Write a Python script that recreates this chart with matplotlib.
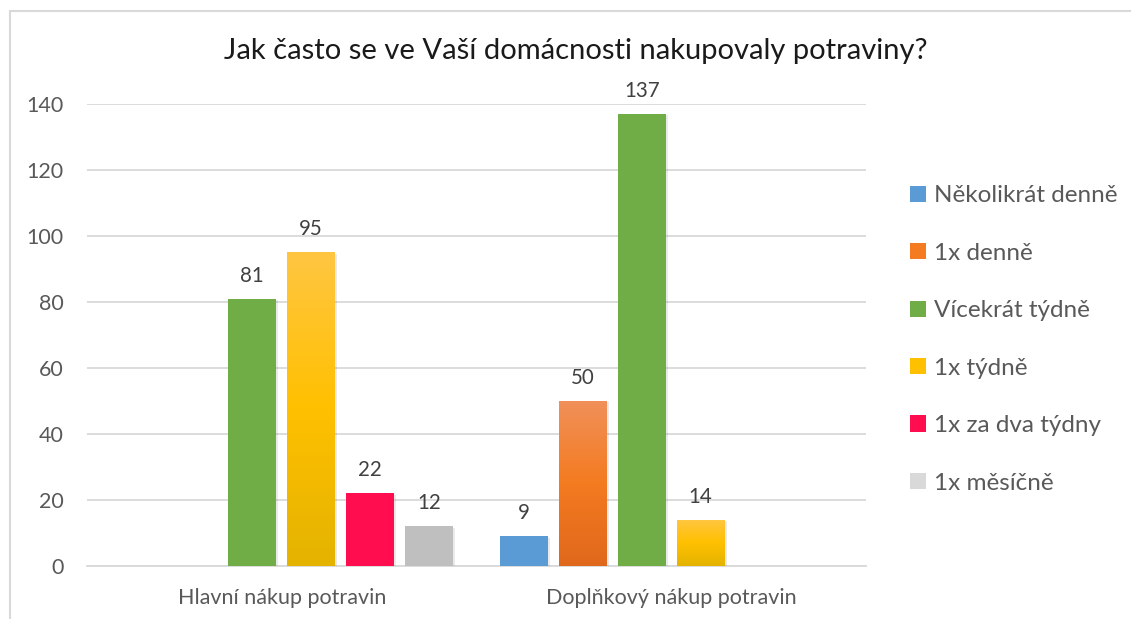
import numpy as np
import matplotlib
matplotlib.use("Agg")
import matplotlib.pyplot as plt
from matplotlib.patches import Patch, Rectangle
from matplotlib.colors import LinearSegmentedColormap
import matplotlib.patheffects as pe

plt.rcParams["font.family"] = ["Lato", "DejaVu Sans"]

# data
categories = ["Hlavní nákup potravin", "Doplňkový nákup potravin"]
series = ["Několikrát denně", "1x denně", "Vícekrát týdně",
          "1x týdně", "1x za dva týdny", "1x měsíčně"]
values = [
    [np.nan, 9],     # Několikrát denně
    [np.nan, 50],    # 1x denně
    [81, 137],       # Vícekrát týdně
    [95, 14],        # 1x týdně
    [22, np.nan],    # 1x za dva týdny
    [12, np.nan],    # 1x měsíčně
]
title = "Jak často se ve Vaší domácnosti nakupovaly potraviny?"

# style: flat colour or (top, middle, bottom) gradient
colors = ["#5B9BD5", ("#F0905A", "#F47B20", "#E0681C"), "#70AD47",
          ("#FFC642", "#FFC000", "#E4B300"), "#FF0D4E", "#BFBFBF"]
legend_colors = ["#5B9BD5", "#F47B20", "#70AD47", "#FFC000", "#FF0D4E", "#D9D9D9"]

fig = plt.figure(figsize=(11.31, 6.19), dpi=100)
ax = fig.add_axes([0.0769, 0.0856, 0.6888, 0.7464])

# chart frame like the spreadsheet export
fig.patches.append(Rectangle((10 / 1131, -0.1), 1.2, 1 - 11 / 619 + 0.1,
                             transform=fig.transFigure, fill=False,
                             edgecolor="#D9D9D9", linewidth=1.5, zorder=0))

x = np.arange(len(categories))
step = 0.151
width = 0.123
offsets = (np.arange(len(series)) - (len(series) - 1) / 2) * step

for i, name in enumerate(series):
    c = colors[i]
    flat = c if isinstance(c, str) else c[1]
    bars = ax.bar(x + offsets[i], values[i], width, color=flat, zorder=3,
                  path_effects=[pe.SimplePatchShadow(offset=(1.5, -1), alpha=0.12,
                                                     shadow_rgbFace="#555555"),
                                pe.Normal()])
    for b, v in zip(bars, values[i]):
        if np.isnan(v):
            continue
        if not isinstance(c, str):
            cmap = LinearSegmentedColormap.from_list("g", [c[2], c[1], c[0]])
            grad = np.linspace(0, 1, 256).reshape(-1, 1)
            im = ax.imshow(grad, cmap=cmap, origin="lower", aspect="auto",
                           extent=[b.get_x(), b.get_x() + b.get_width(), 0, v],
                           zorder=4)
            im.set_clip_path(b)
        ax.text(b.get_x() + b.get_width() / 2, v + 4, f"{v:g}",
                ha="center", va="bottom", fontsize=14.8, color="#404040", zorder=5)

ax.set_xlim(-0.5, 1.5)
ax.set_ylim(0, 140)
ax.set_yticks(np.arange(0, 141, 20))
ax.set_xticks(x)
ax.set_xticklabels(categories)
ax.yaxis.grid(True, color="#D9D9D9", linewidth=1.3, zorder=0)
ax.set_axisbelow(True)
for s in ax.spines.values():
    s.set_visible(False)
ax.spines["bottom"].set_visible(True)
ax.spines["bottom"].set_color("#D9D9D9")
ax.spines["bottom"].set_linewidth(1.3)
ax.tick_params(axis="both", length=0, labelsize=15.5, colors="#595959")
ax.tick_params(axis="y", pad=17)
ax.tick_params(axis="x", pad=16)

fig.text(0.509, 0.917, title, ha="center", va="center", fontsize=21, color="#1a1a1a")

handles = [Patch(facecolor=legend_colors[i], edgecolor="none") for i in range(len(series))]
ax.legend(handles, series, loc="upper left", bbox_to_anchor=(0.785, 0.736),
          bbox_transform=fig.transFigure, frameon=False, fontsize=17.5,
          labelcolor="#595959", handlelength=0.65, handleheight=0.65,
          handletextpad=0.35, labelspacing=1.5)

fig.savefig("out.png", dpi=100)
